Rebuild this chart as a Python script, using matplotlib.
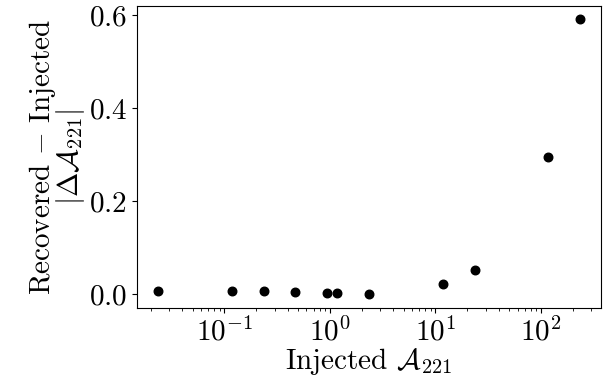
import matplotlib
matplotlib.use("Agg")
import matplotlib.pyplot as plt

# injected amplitude and absolute recovery error
injected = [0.0235, 0.1175, 0.235, 0.47, 0.94, 1.175, 2.35, 11.75, 23.5, 117.5, 235.0]
delta = [0.0072, 0.0070, 0.0066, 0.0060, 0.0036, 0.0036, 0.0007, 0.0215, 0.0516, 0.295, 0.591]

plt.rcParams["font.family"] = "serif"
plt.rcParams["font.serif"] = ["cmr10"]
plt.rcParams["mathtext.fontset"] = "cm"
plt.rcParams["axes.formatter.use_mathtext"] = True
plt.rcParams["axes.unicode_minus"] = False

fig = plt.figure(figsize=(6.11, 3.79), dpi=100)
ax = fig.add_axes([0.224, 0.188, 0.76, 0.797])
ax.scatter(injected, delta, color="black", s=38)
ax.set_xscale("log")
ax.set_yticks([0.0, 0.2, 0.4, 0.6])
ax.tick_params(labelsize=21)
ax.set_xlabel(r"Injected $\mathcal{A}_{221}$", fontsize=21, labelpad=-1)
ax.set_ylabel("Recovered $-$ Injected\n" + r"$|\Delta\mathcal{A}_{221}|$", fontsize=21,
              linespacing=0.85, labelpad=1)

fig.savefig("out.png", dpi=100)
